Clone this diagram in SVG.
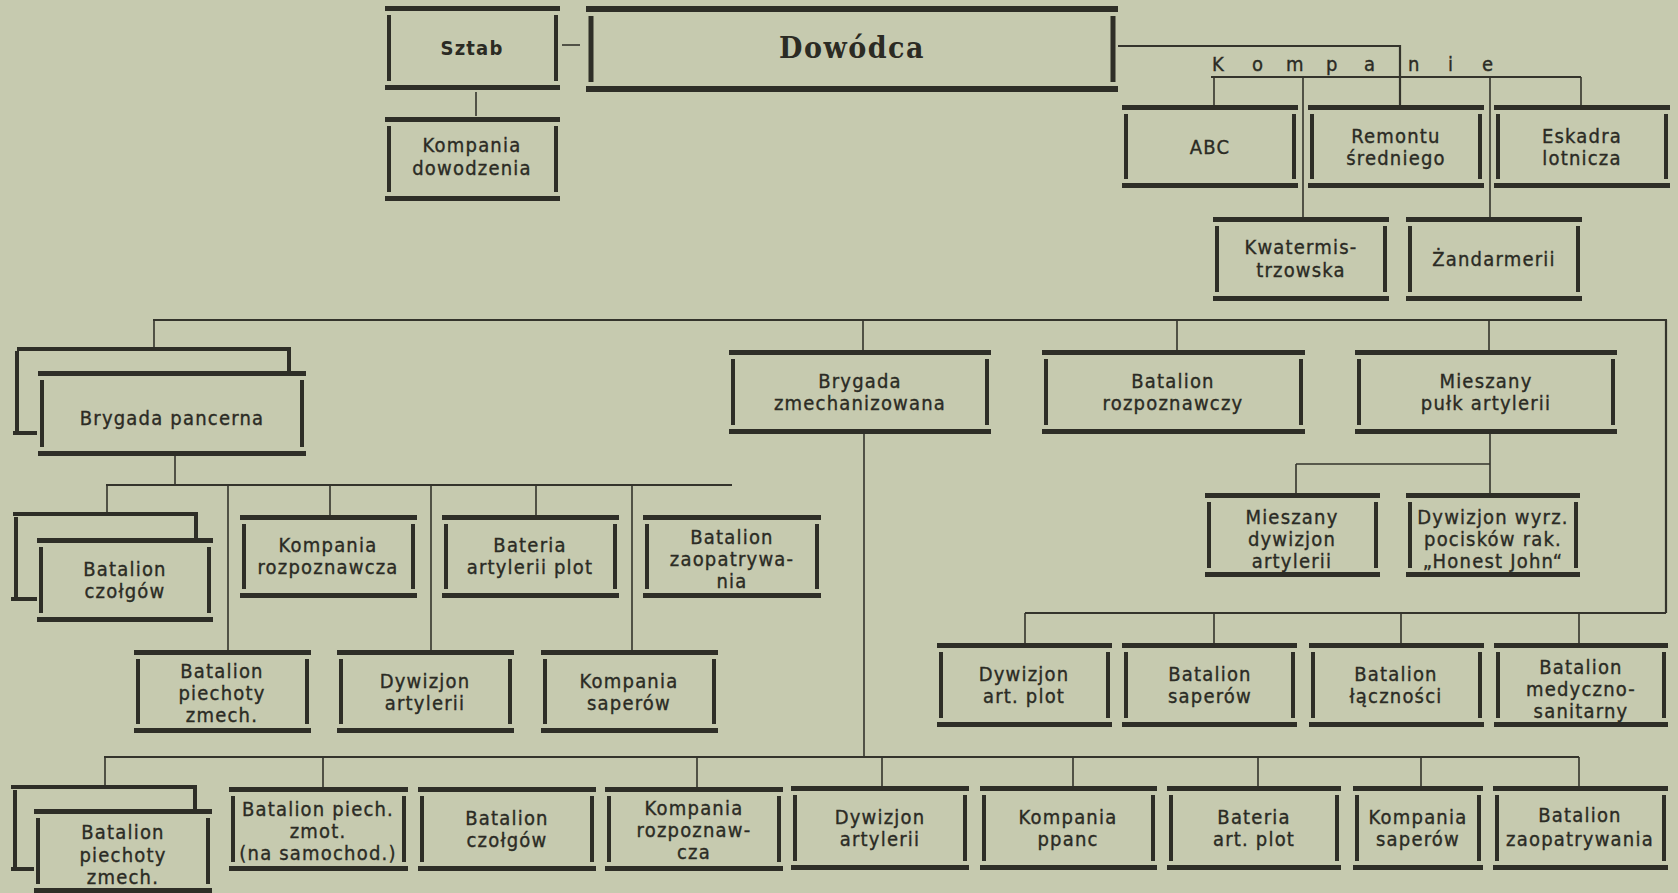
<svg xmlns="http://www.w3.org/2000/svg" width="1678" height="893" viewBox="0 0 1678 893">
<style>
.bg{fill:#c6caaf}
.h{fill:none;stroke:#2e2e27;stroke-width:5}
.v{fill:none;stroke:#2e2e27;stroke-width:4}
.sh{fill:none;stroke:#2e2e27;stroke-width:4}
.c{fill:none;stroke:#34342c;stroke-width:1.6}
.cm{fill:none;stroke:#34342c;stroke-width:2.2}
.t{font-family:"DejaVu Sans Condensed","Liberation Sans Narrow","Liberation Sans",sans-serif;font-size:20px;fill:#2b2b24;stroke:#2b2b24;stroke-width:0.35px;text-anchor:middle;letter-spacing:1.2px}
.tb{font-weight:bold;stroke-width:0}
.big{font-family:"DejaVu Serif Condensed","DejaVu Serif",serif;font-size:30px;font-weight:bold;fill:#2b2b24;text-anchor:middle;letter-spacing:1.5px}
</style>
<rect class="bg" x="0" y="0" width="1678" height="893"/>

<g id="connectors">
<path class="c" d="M562 45H580"/>
<path class="c" d="M476 92V116"/>
<path class="cm" d="M1118 46H1400V105"/>
<path class="cm" d="M1211 77H1581"/>
<path class="c" d="M1214 77V105M1581 77V105M1303 77V217M1490 77V217"/>
<path class="cm" d="M153 320H1667"/>
<path class="c" d="M154 320V349M863 320V350M1177 320V350M1489 320V350"/>
<path class="cm" d="M1666 320V613"/>
<path class="c" d="M175 456V485"/>
<path class="cm" d="M106 485H732"/>
<path class="c" d="M107 485V514M228 485V650M330 485V515M431 485V650M536 485V515M632 485V650"/>
<path class="c" d="M1490 434V493M1296 464H1490M1296 464V493"/>
<path class="cm" d="M1025 613H1666"/>
<path class="c" d="M1025 613V643M1214 613V643M1401 613V643M1579 613V643"/>
<path class="c" d="M864 434V757"/>
<path class="cm" d="M104 757H1579"/>
<path class="c" d="M105 757V787M323 757V787M697 757V787M882 757V786M1073 757V786M1258 757V786M1421 757V786M1579 757V786"/>
</g>

<g id="sztab">
<path class="h" d="M385 8.5H560M385 87.5H560"/><path class="v" d="M389 15V81M556 15V81"/>
<text class="t tb" x="472" y="55">Sztab</text>
</g>
<g id="dowodca">
<path class="h" style="stroke-width:6" d="M586 9H1118M586 89H1118"/><path class="v" style="stroke-width:5" d="M591 16V82M1113 16V82"/>
<text class="big" x="852" y="58">Dowódca</text>
</g>
<g id="kompania-dowodzenia">
<path class="h" d="M385 119.5H560M385 198.5H560"/><path class="v" d="M389 126V192M556 126V192"/>
<text class="t" x="472" y="152">Kompania</text><text class="t" x="472" y="175">dowodzenia</text>
</g>
<g id="kompanie-label">
<text class="t" style="text-anchor:start;letter-spacing:0" x="1212 1252 1286 1326 1364 1408 1448 1482" y="71">Kompanie</text>
</g>
<g id="abc">
<path class="h" d="M1122 107.5H1298M1122 185.5H1298"/><path class="v" d="M1126 114V179M1294 114V179"/>
<text class="t" x="1210" y="154">ABC</text>
</g>
<g id="remontu">
<path class="h" d="M1308 107.5H1484M1308 185.5H1484"/><path class="v" d="M1312 114V179M1480 114V179"/>
<text class="t" x="1396" y="143">Remontu</text><text class="t" x="1396" y="165">średniego</text>
</g>
<g id="eskadra">
<path class="h" d="M1494 107.5H1670M1494 185.5H1670"/><path class="v" d="M1498 114V179M1666 114V179"/>
<text class="t" x="1582" y="143">Eskadra</text><text class="t" x="1582" y="165">lotnicza</text>
</g>
<g id="kwatermistrzowska">
<path class="h" d="M1213 219.5H1389M1213 298.5H1389"/><path class="v" d="M1217 226V292M1385 226V292"/>
<text class="t" x="1301" y="254">Kwatermis-</text><text class="t" x="1301" y="277">trzowska</text>
</g>
<g id="zandarmerii">
<path class="h" d="M1406 219.5H1582M1406 298.5H1582"/><path class="v" d="M1410 226V292M1578 226V292"/>
<text class="t" x="1494" y="266">Żandarmerii</text>
</g>

<g id="brygada-pancerna">
<path class="sh" d="M17 349H287M289 347V371M17 351V432M13 433H37"/>
<path class="h" d="M38 373.5H306M38 453.5H306"/><path class="v" d="M42 380V447M302 380V447"/>
<text class="t" x="172" y="425">Brygada pancerna</text>
</g>
<g id="brygada-zmechanizowana">
<path class="h" d="M729 352.5H991M729 431.5H991"/><path class="v" d="M733 359V425M987 359V425"/>
<text class="t" x="860" y="388">Brygada</text><text class="t" x="860" y="410">zmechanizowana</text>
</g>
<g id="batalion-rozpoznawczy">
<path class="h" d="M1042 352.5H1305M1042 431.5H1305"/><path class="v" d="M1046 359V425M1301 359V425"/>
<text class="t" x="1173" y="388">Batalion</text><text class="t" x="1173" y="410">rozpoznawczy</text>
</g>
<g id="mieszany-pulk">
<path class="h" d="M1355 352.5H1617M1355 431.5H1617"/><path class="v" d="M1359 359V425M1613 359V425"/>
<text class="t" x="1486" y="388">Mieszany</text><text class="t" x="1486" y="410">pułk artylerii</text>
</g>

<g id="batalion-czolgow-1">
<path class="sh" d="M13 514H194M196 512V538M16 517V598M11 599H37"/>
<path class="h" d="M37 540.5H213M37 619.5H213"/><path class="v" d="M41 547V613M209 547V613"/>
<text class="t" x="125" y="576">Batalion</text><text class="t" x="125" y="598">czołgów</text>
</g>
<g id="kompania-rozpoznawcza-1">
<path class="h" d="M240 517.5H417M240 595.5H417"/><path class="v" d="M244 524V589M413 524V589"/>
<text class="t" x="328" y="552">Kompania</text><text class="t" x="328" y="574">rozpoznawcza</text>
</g>
<g id="bateria-artylerii-plot">
<path class="h" d="M442 517.5H619M442 595.5H619"/><path class="v" d="M446 524V589M615 524V589"/>
<text class="t" x="530" y="552">Bateria</text><text class="t" x="530" y="574">artylerii plot</text>
</g>
<g id="batalion-zaopatrywania-1">
<path class="h" d="M643 517.5H821M643 595.5H821"/><path class="v" d="M647 524V589M817 524V589"/>
<text class="t" x="732" y="544">Batalion</text><text class="t" x="732" y="566">zaopatrywa-</text><text class="t" x="732" y="588">nia</text>
</g>
<g id="batalion-piechoty-zmech-1">
<path class="h" d="M134 652.5H311M134 730.5H311"/><path class="v" d="M138 659V724M307 659V724"/>
<text class="t" x="222" y="678">Batalion</text><text class="t" x="222" y="700">piechoty</text><text class="t" x="222" y="722">zmech.</text>
</g>
<g id="dywizjon-artylerii-1">
<path class="h" d="M337 652.5H514M337 730.5H514"/><path class="v" d="M341 659V724M510 659V724"/>
<text class="t" x="425" y="688">Dywizjon</text><text class="t" x="425" y="710">artylerii</text>
</g>
<g id="kompania-saperow-1">
<path class="h" d="M541 652.5H718M541 730.5H718"/><path class="v" d="M545 659V724M714 659V724"/>
<text class="t" x="629" y="688">Kompania</text><text class="t" x="629" y="710">saperów</text>
</g>

<g id="mieszany-dywizjon">
<path class="h" d="M1205 495.5H1380M1205 574.5H1380"/><path class="v" d="M1209 502V568M1376 502V568"/>
<text class="t" x="1292" y="524">Mieszany</text><text class="t" x="1292" y="546">dywizjon</text><text class="t" x="1292" y="568">artylerii</text>
</g>
<g id="dywizjon-honest-john">
<path class="h" d="M1406 495.5H1580M1406 574.5H1580"/><path class="v" d="M1410 502V568M1576 502V568"/>
<text class="t" x="1493" y="524">Dywizjon wyrz.</text><text class="t" x="1493" y="546">pocisków rak.</text><text class="t" x="1493" y="568">„Honest John“</text>
</g>

<g id="dywizjon-art-plot">
<path class="h" d="M937 645.5H1112M937 724.5H1112"/><path class="v" d="M941 652V718M1108 652V718"/>
<text class="t" x="1024" y="681">Dywizjon</text><text class="t" x="1024" y="703">art. plot</text>
</g>
<g id="batalion-saperow">
<path class="h" d="M1122 645.5H1297M1122 724.5H1297"/><path class="v" d="M1126 652V718M1293 652V718"/>
<text class="t" x="1210" y="681">Batalion</text><text class="t" x="1210" y="703">saperów</text>
</g>
<g id="batalion-lacznosci">
<path class="h" d="M1309 645.5H1484M1309 724.5H1484"/><path class="v" d="M1313 652V718M1480 652V718"/>
<text class="t" x="1396" y="681">Batalion</text><text class="t" x="1396" y="703">łączności</text>
</g>
<g id="batalion-medyczno-sanitarny">
<path class="h" d="M1494 645.5H1668M1494 724.5H1668"/><path class="v" d="M1498 652V718M1664 652V718"/>
<text class="t" x="1581" y="674">Batalion</text><text class="t" x="1581" y="696">medyczno-</text><text class="t" x="1581" y="718">sanitarny</text>
</g>

<g id="batalion-piechoty-zmech-2">
<path class="sh" d="M11 787H193M195 785V809M15 790V868M11 869H34"/>
<path class="h" d="M34 811.5H212M34 890.5H212"/><path class="v" d="M38 818V884M208 818V884"/>
<text class="t" x="123" y="839">Batalion</text><text class="t" x="123" y="862">piechoty</text><text class="t" x="123" y="884">zmech.</text>
</g>
<g id="batalion-piech-zmot">
<path class="h" d="M229 789.5H408M229 868.5H408"/><path class="v" d="M233 796V862M404 796V862"/>
<text class="t" x="318" y="816">Batalion piech.</text><text class="t" x="318" y="838">zmot.</text><text class="t" x="318" y="860">(na samochod.)</text>
</g>
<g id="batalion-czolgow-2">
<path class="h" d="M418 789.5H596M418 868.5H596"/><path class="v" d="M422 796V862M592 796V862"/>
<text class="t" x="507" y="825">Batalion</text><text class="t" x="507" y="847">czołgów</text>
</g>
<g id="kompania-rozpoznawcza-2">
<path class="h" d="M605 789.5H783M605 868.5H783"/><path class="v" d="M609 796V862M779 796V862"/>
<text class="t" x="694" y="815">Kompania</text><text class="t" x="694" y="837">rozpoznaw-</text><text class="t" x="694" y="859">cza</text>
</g>
<g id="dywizjon-artylerii-2">
<path class="h" d="M791 788.5H969M791 867.5H969"/><path class="v" d="M795 795V861M965 795V861"/>
<text class="t" x="880" y="824">Dywizjon</text><text class="t" x="880" y="846">artylerii</text>
</g>
<g id="kompania-ppanc">
<path class="h" d="M980 788.5H1157M980 867.5H1157"/><path class="v" d="M984 795V861M1153 795V861"/>
<text class="t" x="1068" y="824">Kompania</text><text class="t" x="1068" y="846">ppanc</text>
</g>
<g id="bateria-art-plot">
<path class="h" d="M1167 788.5H1341M1167 867.5H1341"/><path class="v" d="M1171 795V861M1337 795V861"/>
<text class="t" x="1254" y="824">Bateria</text><text class="t" x="1254" y="846">art. plot</text>
</g>
<g id="kompania-saperow-2">
<path class="h" d="M1353 788.5H1483M1353 867.5H1483"/><path class="v" d="M1357 795V861M1479 795V861"/>
<text class="t" x="1418" y="824">Kompania</text><text class="t" x="1418" y="846">saperów</text>
</g>
<g id="batalion-zaopatrywania-2">
<path class="h" d="M1493 788.5H1668M1493 867.5H1668"/><path class="v" d="M1497 795V861M1664 795V861"/>
<text class="t" x="1580" y="822">Batalion</text><text class="t" x="1580" y="846">zaopatrywania</text>
</g>
</svg>
